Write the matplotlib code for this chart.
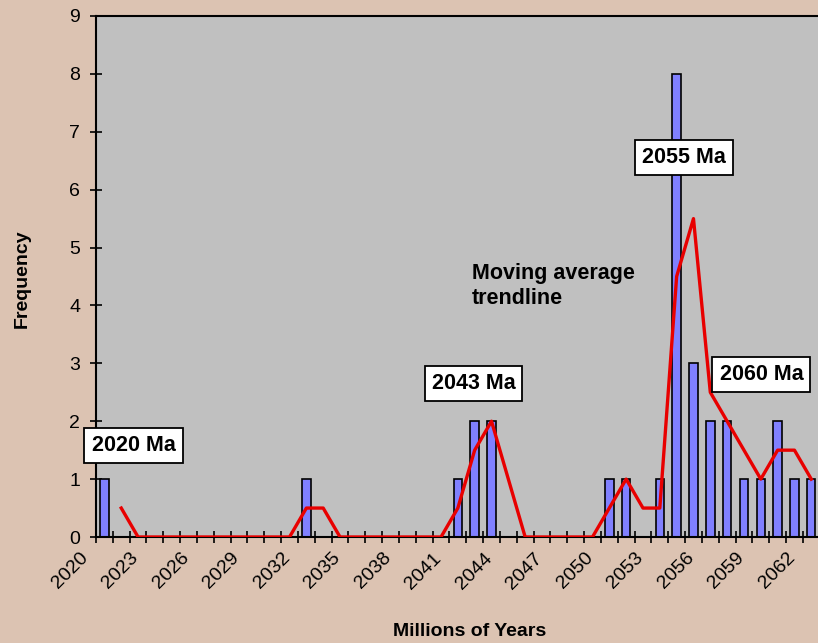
import matplotlib.pyplot as plt
import numpy as np
from matplotlib.transforms import ScaledTranslation

plt.rcParams['font.family'] = ['Liberation Sans', 'DejaVu Sans']

# Histogram bins (Ma) and counts
years = list(range(2020, 2063))
freq = [1, 0, 0, 0, 0, 0, 0, 0, 0, 0, 0, 0,
        1, 0, 0, 0, 0, 0, 0, 0, 0,
        1, 2, 2, 0, 0, 0, 0, 0, 0,
        1, 1, 0, 1, 8, 3, 2, 2, 1, 1, 2, 1, 1]

# 2-point moving average trendline, starting at 2021
ma_years = list(range(2021, 2063))
ma_vals = [0.5, 0, 0, 0, 0, 0, 0, 0, 0, 0, 0,
           0.5, 0.5, 0, 0, 0, 0, 0, 0, 0,
           0.5, 1.5, 2, 1, 0, 0, 0, 0, 0,
           0.5, 1, 0.5, 0.5, 4.5, 5.5, 2.5, 2, 1.5, 1, 1.5, 1.5, 1]

# text callouts: (label, year position, frequency position)
callouts = [("2020 Ma", 2021.73, 1.58),
            ("2043 Ma", 2041.93, 2.65),
            ("2055 Ma", 2054.46, 6.56),
            ("2060 Ma", 2059.04, 2.81)]

W, H = 818, 643
fig = plt.figure(figsize=(W / 100, H / 100), dpi=100)
fig.patch.set_facecolor('#DCC3B2')

# plot area in pixels: left 96, right ~820 (cut by image edge), top 16, bottom 537
ax = fig.add_axes([96 / W, (H - 537) / H, (819.7 - 96) / W, 521 / H])
ax.set_facecolor('#C0C0C0')

ax.bar(years, freq, width=0.5, color='#8080FF', edgecolor='black', linewidth=1.2, zorder=2)
ax.plot(ma_years, ma_vals, color='#E80000', linewidth=2.4, zorder=3)

ax.set_xlim(years[0] - 0.5, years[-1] + 0.5)
ax.set_ylim(0, 9)
ax.set_yticks(np.arange(0, 10, 1))

# tick marks between categories, labels every third category
ax.set_xticks(np.arange(years[0] - 0.5, years[-1] + 1, 1), minor=True)
ax.set_xticks(years[::3])
ax.set_xticklabels([str(y) for y in years[::3]], rotation=45, ha='right', va='top', fontsize=14)
ax.tick_params(axis='x', which='major', length=0, pad=9)
ax.tick_params(axis='x', which='minor', direction='inout', length=8, width=1.2)
ax.tick_params(axis='y', direction='inout', length=8, width=1.2, pad=7.5, labelsize=14)
offset = ScaledTranslation(-13 / 100, 0, fig.dpi_scale_trans)
for lab in ax.get_xticklabels():
    lab.set_transform(lab.get_transform() + offset)

for side in ['left', 'bottom', 'top', 'right']:
    ax.spines[side].set_linewidth(1.5)
    ax.spines[side].set_color('black')

for label, x, y in callouts:
    ax.text(x, y, label, ha='center', va='center', fontsize=15.5, fontweight='bold', zorder=5,
            bbox=dict(boxstyle='square,pad=0.33', facecolor='white', edgecolor='black', linewidth=1.3))

ax.text(2041.84, 4.34, "Moving average\ntrendline", ha='left', va='center', fontsize=15.5,
        fontweight='bold', linespacing=1.25, zorder=5)

fig.text(470 / W, 1 - 632 / H, "Millions of Years", ha='center', va='center', fontsize=14, fontweight='bold')
fig.text(22 / W, 1 - 279 / H, "Frequency", ha='center', va='center', rotation=90, fontsize=14, fontweight='bold')

fig.savefig('out.png', dpi=100, facecolor=fig.get_facecolor())
